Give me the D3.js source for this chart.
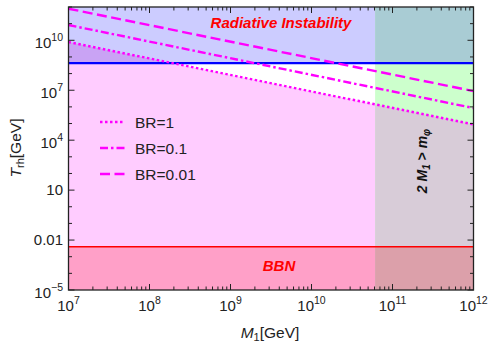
<!DOCTYPE html>
<html><head><meta charset="utf-8">
<script src="https://cdn.jsdelivr.net/npm/d3@7"></script>
<style>body{margin:0;background:#fff}svg{display:block;font-family:"Liberation Sans",Arial,sans-serif}</style>
</head><body><svg id="c" width="489" height="343"></svg>
<script>
// ---- data ----
const massGeV = [1e7, 1e12];
const seriesNames = ["BR=1", "BR=0.1", "BR=0.01"];
const tBR1 = [7.9e9, 8.9e4];
const tBR01 = [8.3e10, 8.5e5];
const tBR001 = [7.9e11, 8.9e6];
const tRadiative = 4.2e8;
const tBBN = 4.0e-3;
const mThreshold = 6.1e10;
const xTickExps = [7, 8, 9, 10, 11, 12];
const yTickVals = [1e-5, 0.01, 10, 1e4, 1e7, 1e10];
const yTickBase = ["10", "0.01", "10", "10", "10", "10"];
const yTickSup = ["\u22125", "", "", "4", "7", "10"];

const L = 68.5, R = 473.5, T = 7, B = 290;
const x = d3.scaleLog().domain([1e7, 1e12]).range([L, R]);
const y = d3.scaleLog().domain([1e-5, 1e12]).range([B, T]);
const svg = d3.select("#c");
const defs = svg.append("defs");
const xm = x(mThreshold), yr = y(tRadiative), yb = y(tBBN);
function clip(id, x0, y0, x1, y1) {
  defs.append("clipPath").attr("id", id).append("rect")
    .attr("x", x0).attr("y", y0).attr("width", x1 - x0).attr("height", y1 - y0);
}
clip("cl", L, T, xm, B); clip("cr", xm, T, R, B); clip("clt", L, T, xm, yr);

const pts = s => massGeV.map((m, i) => [m, s[i]]);
const under = d3.area().x(d => x(d[0])).y0(B).y1(d => y(d[1]));

// backgrounds
svg.append("rect").attr("x", L).attr("y", T).attr("width", xm - L).attr("height", B - T).attr("fill", "#ffffff");
svg.append("rect").attr("x", xm).attr("y", T).attr("width", R - xm).attr("height", B - T).attr("fill", "#ccffcc");
// region below BR=1 line
svg.append("path").attr("d", under(pts(tBR1))).attr("fill", "#ffccff").attr("clip-path", "url(#cl)");
svg.append("path").attr("d", under(pts(tBR1))).attr("fill", "#d8ccd8").attr("clip-path", "url(#cr)");
// radiative instability region
svg.append("rect").attr("x", L).attr("y", T).attr("width", xm - L).attr("height", yr - T).attr("fill", "#ccccff");
svg.append("rect").attr("x", xm).attr("y", T).attr("width", R - xm).attr("height", yr - T).attr("fill", "#a9ccd4");
svg.append("path").attr("d", under(pts(tBR1))).attr("fill", "#c9a3f4").attr("clip-path", "url(#clt)");
// BBN region
svg.append("rect").attr("x", L).attr("y", yb).attr("width", xm - L).attr("height", B - yb).attr("fill", "#ffa0c8");
svg.append("rect").attr("x", xm).attr("y", yb).attr("width", R - xm).attr("height", B - yb).attr("fill", "#dca0aa");

// boundary lines
svg.append("line").attr("x1", L).attr("x2", R).attr("y1", yr).attr("y2", yr).attr("stroke", "#0000ff").attr("stroke-width", 2.2);
svg.append("line").attr("x1", L).attr("x2", R).attr("y1", yb).attr("y2", yb).attr("stroke", "#ff0000").attr("stroke-width", 1.6);

// BR curves
const dashes = ["2.5,2.5", "8,3,2.5,3", "10,4.5"];
const line = d3.line().x(d => x(d[0])).y(d => y(d[1]));
clip("all", L, T, R, B);
const plotG = svg.append("g").attr("clip-path", "url(#all)");
[tBR1, tBR01, tBR001].forEach((s, i) => {
  plotG.append("path").attr("d", line(pts(s))).attr("fill", "none")
    .attr("stroke", "#ff00ff").attr("stroke-width", 2.4).attr("stroke-dasharray", dashes[i]);
});

// legend
const legY = [122, 148, 174];
seriesNames.forEach((n, i) => {
  svg.append("line").attr("x1", 100).attr("x2", 125).attr("y1", legY[i]).attr("y2", legY[i])
    .attr("stroke", "#ff00ff").attr("stroke-width", 2.4).attr("stroke-dasharray", dashes[i]);
  svg.append("text").attr("x", 135).attr("y", legY[i] + 5.5).attr("font-size", 15.5).attr("fill", "#222").text(n);
});

// region labels
svg.append("text").attr("x", 281).attr("y", 28).attr("text-anchor", "middle").attr("font-size", 15)
  .attr("font-weight", "bold").attr("font-style", "italic").attr("fill", "#ff0000").text("Radiative Instability");
svg.append("text").attr("x", 279).attr("y", 270.5).attr("text-anchor", "middle").attr("font-size", 15)
  .attr("font-weight", "bold").attr("font-style", "italic").attr("fill", "#ff0000").text("BBN");
const rl = svg.append("text").attr("transform", "translate(427,161) rotate(-90)").attr("text-anchor", "middle")
  .attr("font-size", 14).attr("font-weight", "bold").attr("font-style", "italic").attr("fill", "#111");
rl.append("tspan").text("2 M");
rl.append("tspan").attr("font-size", 10).attr("dy", 3).text("1");
rl.append("tspan").attr("dy", -3).text(" > m");
rl.append("tspan").attr("font-size", 10).attr("dy", 3).text("\u03c6");

// frame + ticks
const ax = svg.append("g").attr("stroke", "#222").attr("stroke-width", 1);
for (let e = 7; e < 12; e++) for (let k = 1; k < 10; k++) {
  const v = k * Math.pow(10, e), px = x(v), len = k === 1 ? 6 : 3.5;
  ax.append("line").attr("x1", px).attr("x2", px).attr("y1", B).attr("y2", B - len);
  ax.append("line").attr("x1", px).attr("x2", px).attr("y1", T).attr("y2", T + len);
}
for (let e = -5; e <= 12; e++) {
  const py = y(Math.pow(10, e)), len = (e + 5) % 3 === 0 ? 6 : 3.5;
  ax.append("line").attr("x1", L).attr("x2", L + len).attr("y1", py).attr("y2", py);
  ax.append("line").attr("x1", R).attr("x2", R - len).attr("y1", py).attr("y2", py);
}
ax.append("rect").attr("x", L).attr("y", T).attr("width", R - L).attr("height", B - T).attr("fill", "none").attr("stroke-width", 1.3);

// x tick labels
xTickExps.forEach(e => {
  const t = svg.append("text").attr("x", x(Math.pow(10, e))).attr("y", 310.5).attr("text-anchor", "middle")
    .attr("font-size", 15).attr("fill", "#222");
  t.append("tspan").text("10");
  t.append("tspan").attr("font-size", 10.5).attr("dy", -7).text(e);
});
// y tick labels
yTickVals.forEach((v, i) => {
  const hasSup = yTickSup[i] !== "";
  const t = svg.append("text").attr("x", 63).attr("y", y(v) + (hasSup ? 7.5 : 5.3)).attr("text-anchor", "end")
    .attr("font-size", 15).attr("fill", "#222");
  t.append("tspan").text(yTickBase[i]);
  if (hasSup) t.append("tspan").attr("font-size", 10.5).attr("dy", -7).text(yTickSup[i]);
});

// axis titles
const xt = svg.append("text").attr("x", 270).attr("y", 338).attr("text-anchor", "middle").attr("font-size", 15.5).attr("fill", "#222");
xt.append("tspan").attr("font-style", "italic").text("M");
xt.append("tspan").attr("font-size", 11).attr("dy", 3).text("1");
xt.append("tspan").attr("dy", -3).text("[GeV]");
const yt = svg.append("text").attr("transform", "translate(21,148) rotate(-90)").attr("text-anchor", "middle").attr("font-size", 15.5).attr("fill", "#222");
yt.append("tspan").attr("font-style", "italic").text("T");
yt.append("tspan").attr("font-size", 11).attr("dy", 3).text("rh");
yt.append("tspan").attr("dy", -3).text("[GeV]");
</script></body></html>
